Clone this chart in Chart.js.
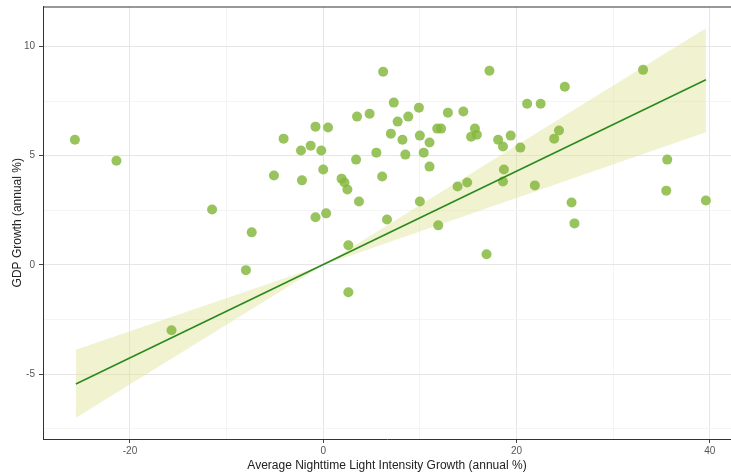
<!DOCTYPE html>
<html>
<head>
<meta charset="utf-8">
<script src="https://cdn.jsdelivr.net/npm/chart.js@4"></script>
<style>
  body { margin: 0; background: #fff; }
  #wrap { width: 731px; height: 473px; }
</style>
</head>
<body>
<div id="wrap"><canvas id="grafico" width="731" height="473"></canvas></div>
<script>
// Datos (crecimiento de luz nocturna vs crecimiento del PIB)
const lightGrowth = [
  -25.7, -21.4, -11.5, -7.4, -8.0, -15.7, -5.1, -4.1, -2.2, -2.3,
  -1.3, -0.8, -0.2, 0.5, 0.0, -0.8, 0.3, 1.9, 2.2, 2.5,
  2.6, 2.6, 3.7, 3.5, 3.4, 4.8, 5.5, 6.2, 6.1, 6.6,
  7.0, 7.3, 7.7, 8.2, 8.5, 8.8, 9.9, 10.0, 10.0, 10.4,
  11.0, 11.0, 11.8, 12.2, 11.9, 12.9, 13.9, 14.5, 14.9, 15.3,
  15.7, 15.9, 16.9, 17.2, 18.1, 18.6, 18.7, 18.6, 19.4, 20.4,
  21.1, 21.9, 22.5, 23.9, 24.4, 25.0, 25.7, 26.0, 33.1, 35.6,
  35.5, 39.6
];
const gdpGrowth = [
  5.73, 4.77, 2.54, 1.49, -0.24, -2.99, 4.09, 5.78, 3.87, 5.24,
  5.46, 6.33, 5.24, 6.29, 4.37, 2.18, 2.36, 3.95, 3.77, 3.45,
  0.90, -1.25, 2.90, 6.79, 4.82, 6.92, 5.14, 8.84, 4.05, 2.08,
  6.01, 7.43, 6.56, 5.73, 5.05, 6.79, 7.20, 5.92, 2.90, 5.14,
  5.60, 4.50, 6.24, 6.24, 1.81, 6.97, 3.59, 7.02, 3.77, 5.87,
  6.24, 5.96, 0.49, 8.89, 5.73, 5.42, 4.37, 3.82, 5.92, 5.37,
  7.38, 3.64, 7.38, 5.78, 6.15, 8.16, 2.86, 1.90, 8.93, 4.82,
  3.40, 2.95
];

// Recta ajustada y banda de confianza
const fitX = [-25.6, 39.6];
const fitY = [-5.45, 8.48];
const bandX = [-25.6, 0, 39.6];
const bandUpper = [-3.88, 0, 10.84];
const bandLower = [-7.0, 0, 6.07];

// Marcas de los ejes
const xMajorTicks = [-20, 0, 20, 40];
const xMinorTicks = [-10, 10, 30];
const yMajorTicks = [-5, 0, 5, 10];
const yMinorTicks = [-7.5, -2.5, 2.5, 7.5];

const pares = (xs, ys) => xs.map((x, i) => ({ x: x, y: ys[i] }));

// Borde superior del panel
const bordeSuperior = {
  id: 'bordeSuperior',
  afterDraw(chart) {
    const { ctx, chartArea } = chart;
    ctx.save();
    ctx.strokeStyle = '#333333';
    ctx.lineWidth = 1;
    ctx.beginPath();
    ctx.moveTo(chartArea.left, chartArea.top + 0.5);
    ctx.lineTo(chartArea.right, chartArea.top + 0.5);
    ctx.stroke();
    ctx.restore();
  }
};

function gridStyle(majors) {
  return {
    color: c => majors.includes(c.tick.value) ? '#e6e6e6' : '#f1f1f1',
    lineWidth: c => majors.includes(c.tick.value) ? 1 : 0.8,
    tickColor: c => majors.includes(c.tick.value) ? '#444444' : 'rgba(0,0,0,0)',
    tickLength: 4,
    drawTicks: true
  };
}

new Chart(document.getElementById('grafico'), {
  type: 'line',
  data: {
    datasets: [
      {
        label: 'ajuste',
        data: pares(fitX, fitY),
        borderColor: '#2a8a1e',
        borderWidth: 1.6,
        pointRadius: 0,
        fill: false,
        order: 0
      },
      {
        label: 'países',
        data: pares(lightGrowth, gdpGrowth),
        showLine: false,
        pointRadius: 5,
        pointBorderWidth: 0,
        pointBackgroundColor: 'rgba(135,185,65,0.85)',
        pointBorderColor: 'rgba(135,185,65,0.85)',
        order: 1
      },
      {
        label: 'inferior',
        data: pares(bandX, bandLower),
        borderWidth: 0,
        borderColor: 'rgba(0,0,0,0)',
        pointRadius: 0,
        fill: false,
        order: 3
      },
      {
        label: 'superior',
        data: pares(bandX, bandUpper),
        borderWidth: 0,
        borderColor: 'rgba(0,0,0,0)',
        backgroundColor: 'rgba(222,226,150,0.45)',
        pointRadius: 0,
        fill: '-1',
        order: 2
      }
    ]
  },
  options: {
    responsive: false,
    devicePixelRatio: 1,
    animation: false,
    layout: { autoPadding: false, padding: { top: 6.5, right: 0, left: 0, bottom: 0 } },
    plugins: {
      legend: { display: false },
      tooltip: { enabled: false }
    },
    scales: {
      x: {
        type: 'linear',
        min: -29.0,
        max: 42.2,
        afterBuildTicks: s => { s.ticks = xMajorTicks.concat(xMinorTicks).sort((a, b) => a - b).map(v => ({ value: v })); },
        afterFit: s => { s.height = 34; s.paddingLeft = 0; s.paddingRight = 0; },
        grid: gridStyle(xMajorTicks),
        border: { display: true, color: '#333333', width: 1 },
        ticks: {
          autoSkip: false,
          maxRotation: 0,
          padding: 2,
          color: '#555555',
          font: { family: 'Liberation Sans', size: 10 },
          callback: v => xMajorTicks.includes(v) ? String(v) : ''
        },
        title: {
          display: true,
          text: 'Average Nighttime Light Intensity Growth (annual %)',
          color: '#222222',
          font: { family: 'Liberation Sans', size: 12 },
          padding: { top: 0, bottom: 0 }
        }
      },
      y: {
        type: 'linear',
        min: -7.97,
        max: 11.83,
        afterBuildTicks: s => { s.ticks = yMajorTicks.concat(yMinorTicks).sort((a, b) => a - b).map(v => ({ value: v })); },
        afterFit: s => { s.width = 43; s.paddingTop = 0; s.paddingBottom = 0; },
        grid: gridStyle(yMajorTicks),
        border: { display: true, color: '#333333', width: 1 },
        ticks: {
          autoSkip: false,
          padding: 4,
          color: '#555555',
          font: { family: 'Liberation Sans', size: 10 },
          callback: v => yMajorTicks.includes(v) ? String(v) : ''
        },
        title: {
          display: true,
          text: 'GDP Growth (annual %)',
          color: '#222222',
          font: { family: 'Liberation Sans', size: 12 },
          padding: { top: 10, bottom: 0 }
        }
      }
    }
  },
  plugins: [bordeSuperior]
});
</script>
</body>
</html>
